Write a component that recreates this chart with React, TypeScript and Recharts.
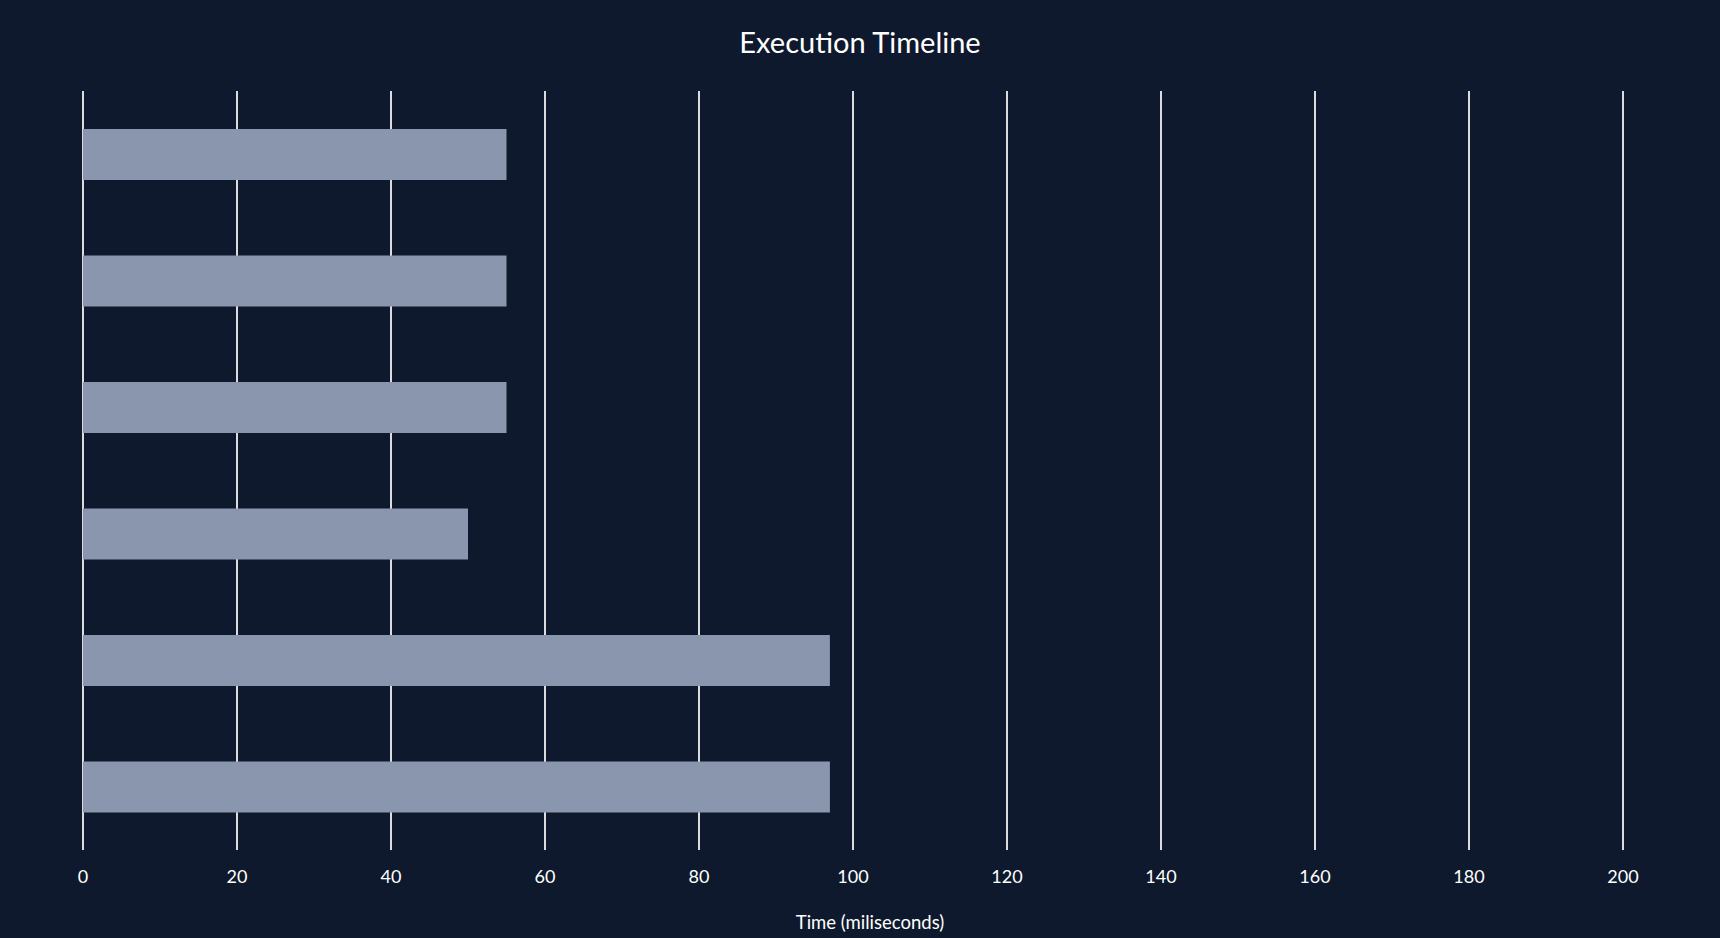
import React from "react";
import { BarChart, Bar, XAxis, YAxis, CartesianGrid } from "recharts";

const categories = ["Step 1", "Step 2", "Step 3", "Step 4", "Step 5", "Step 6"];
const durations = [55, 55, 55, 50, 97, 97];
const xTicks = [0, 20, 40, 60, 80, 100, 120, 140, 160, 180, 200];

const data = categories.map((name, i) => ({ name, value: durations[i] }));

const BG = "#0e192d";
const FONT = "Lato, 'Open Sans', sans-serif";

export default function App() {
  return (
    <div
      style={{
        position: "fixed",
        left: 0,
        top: 0,
        width: 1720,
        height: 938,
        background: BG,
        fontFamily: FONT,
      }}
    >
      <div
        style={{
          position: "absolute",
          left: 0,
          width: 1720,
          top: 23,
          textAlign: "center",
          color: "#ffffff",
          fontSize: 29,
          lineHeight: "38px",
        }}
      >
        Execution Timeline
      </div>
      <div
        style={{
          position: "absolute",
          left: 20,
          width: 1700,
          top: 909,
          textAlign: "center",
          color: "#ffffff",
          fontSize: 18.5,
          lineHeight: "26px",
        }}
      >
        Time (miliseconds)
      </div>
      <div style={{ position: "absolute", left: 0, top: 0 }}>
        <BarChart
          width={1720}
          height={938}
          data={data}
          layout="vertical"
          margin={{ top: 91, right: 97, bottom: 28, left: 83 }}
          barCategoryGap="30%"
        >
          <CartesianGrid
            horizontal={false}
            vertical={true}
            stroke="#dcdcdc"
            strokeWidth={2}
          />
          <XAxis
            type="number"
            domain={[0, 200]}
            ticks={xTicks}
            interval={0}
            axisLine={false}
            tickLine={false}
            height={60}
            tickMargin={14}
            tick={{ fill: "#ffffff", fontSize: 18, fontFamily: FONT }}
          />
          <YAxis type="category" dataKey="name" hide />
          <Bar dataKey="value" fill="#8a95ae" isAnimationActive={false} />
        </BarChart>
      </div>
    </div>
  );
}
